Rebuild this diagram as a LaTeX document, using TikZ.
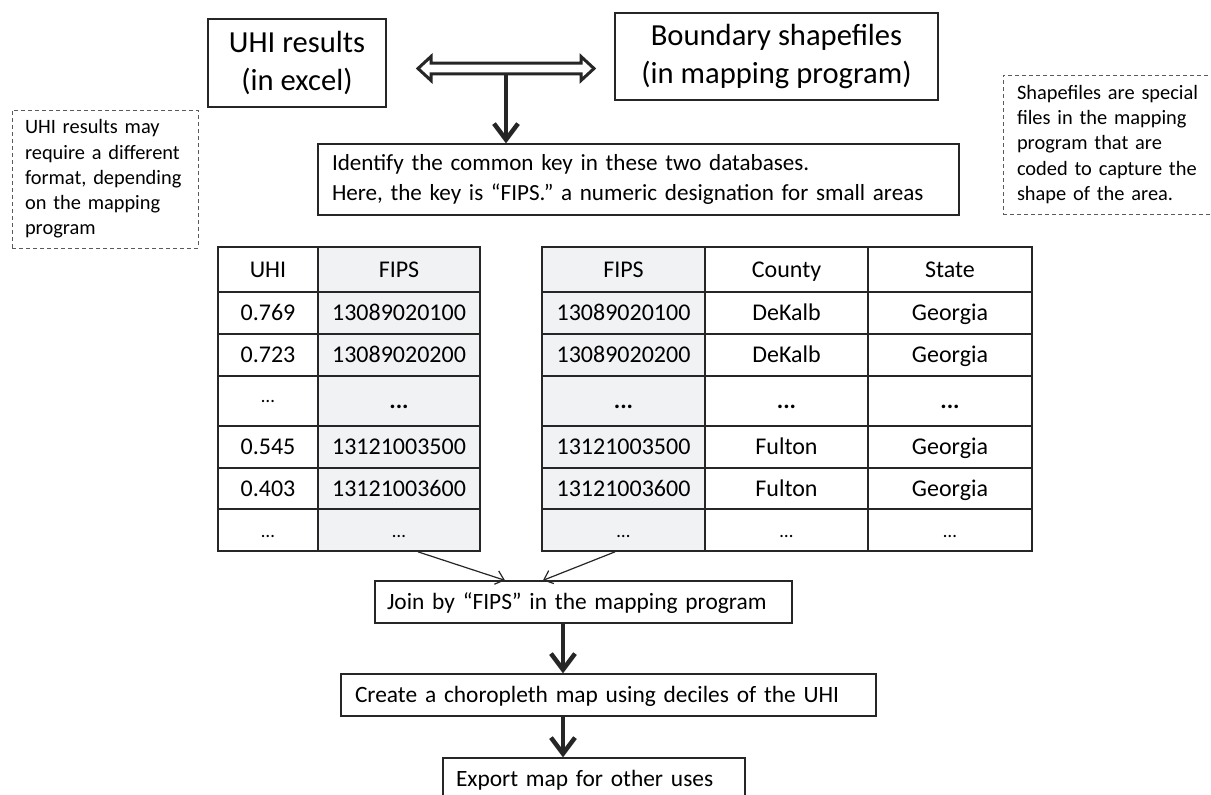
\documentclass[tikz,border=0pt]{standalone}
\usepackage{fontspec}
\setmainfont{Carlito}
\usetikzlibrary{arrows.meta,calc}
\definecolor{fipsgray}{RGB}{241,242,244}
\definecolor{linec}{RGB}{38,38,38}
\definecolor{notec}{RGB}{90,90,90}
\begin{document}
\begin{tikzpicture}[x=1pt,y=-1pt,
  bigbox/.style={draw=linec, line width=1.3pt, inner sep=0pt, align=center,
    font=\fontsize{30.6}{38.5}\selectfont},
  flowbox/.style={draw=linec, line width=1.3pt, inner ysep=0pt, align=left,
    minimum height=42pt, text height=15pt, text depth=0pt,
    font=\fontsize{23.4}{30}\selectfont},
  notebox/.style={draw=notec, dash pattern=on 4pt off 3pt, line width=1pt,
    inner sep=0pt, align=left, font=\fontsize{20.4}{25.3}\selectfont},
  cell/.style={draw=linec, line width=1.7pt, inner sep=0pt,
    text height=15.6pt, text depth=0pt, font=\fontsize{24}{29}\selectfont},
  fcell/.style={cell, fill=fipsgray},
  thickarrow/.style={draw=linec, line width=4.5pt, -{Straight Barb[length=16pt,width=24pt]}},
  thinarrow/.style={draw=linec, line width=1.2pt, -{Straight Barb[length=8pt,width=14pt]}}
]
\useasboundingbox (0,0) rectangle (1211,795);
\clip (0,0) rectangle (1211,795);
\fill[white] (0,0) rectangle (1211,795);

% top boxes
\node[bigbox, minimum width=178pt, minimum height=88pt] (uhi) at (297,63) {UHI results\\(in excel)};
\node[bigbox, minimum width=323pt, minimum height=87pt] (bnd) at (776.5,56.5) {Boundary shapefiles\\(in mapping program)};

% identify box
\node[draw=linec, line width=1.3pt, inner xsep=14pt, inner ysep=0pt, text width=613pt,
  minimum height=71pt, align=left, font=\fontsize{23.1}{30}\selectfont] (ident) at (638.5,179.5)
  {Identify the common key in these two databases.\\Here, the key is “FIPS.” a numeric designation for small areas};

% double block arrow
\draw[linec, line width=3pt, fill=white, miter limit=10]
  (418,68.5) -- (431,56.5) -- (431,63.2) -- (581,63.2) -- (581,56.5) -- (594,68.5)
  -- (581,80.5) -- (581,73.8) -- (431,73.8) -- (431,80.5) -- cycle;
\coordinate (stem) at (506,75.3);
\draw[thickarrow] (stem) -- (ident.north -| stem);

% notes
\node[notebox, minimum width=186pt, minimum height=138pt, text width=160pt] (noteL) at (105,179)
  {UHI results may\\require a different\\format, depending\\on the mapping\\program};
\node[notebox, minimum width=250pt, minimum height=139pt, text width=222pt] (noteR) at (1128,144.5)
  {Shapefiles are special\\files in the mapping\\program that are\\coded to capture the\\shape of the area.};

% left table
\node[cell,  minimum width=100pt, minimum height=45pt] (L11) at (268,269.5) {UHI};
\node[fcell, minimum width=162pt, minimum height=45pt] (L12) at (399,269.5) {FIPS};
\node[cell,  minimum width=100pt, minimum height=42pt] (L21) at (268,313) {0.769};
\node[fcell, minimum width=162pt, minimum height=42pt] (L22) at (399,313) {13089020100};
\node[cell,  minimum width=100pt, minimum height=42pt] (L31) at (268,355) {0.723};
\node[fcell, minimum width=162pt, minimum height=42pt] (L32) at (399,355) {13089020200};
\node[cell,  minimum width=100pt, minimum height=50pt] (L41) at (268,401) {\raisebox{6pt}{\fontsize{19}{22}\selectfont …}};
\node[fcell, minimum width=162pt, minimum height=50pt] (L42) at (399,401) {\textbf{...}};
\node[cell,  minimum width=100pt, minimum height=42pt] (L51) at (268,447) {0.545};
\node[fcell, minimum width=162pt, minimum height=42pt] (L52) at (399,447) {13121003500};
\node[cell,  minimum width=100pt, minimum height=41pt] (L61) at (268,488.5) {0.403};
\node[fcell, minimum width=162pt, minimum height=41pt] (L62) at (399,488.5) {13121003600};
\node[cell,  minimum width=100pt, minimum height=42pt] (L71) at (268,530) {\fontsize{19}{22}\selectfont …};
\node[fcell, minimum width=162pt, minimum height=42pt] (L72) at (399,530) {\fontsize{19}{22}\selectfont …};

% right table
\node[fcell, minimum width=163pt, minimum height=45pt] (R11) at (623.5,269.5) {FIPS};
\node[cell,  minimum width=163pt, minimum height=45pt] (R12) at (786.5,269.5) {County};
\node[cell,  minimum width=164pt, minimum height=45pt] (R13) at (950,269.5) {State};
\node[fcell, minimum width=163pt, minimum height=42pt] (R21) at (623.5,313) {13089020100};
\node[cell,  minimum width=163pt, minimum height=42pt] (R22) at (786.5,313) {DeKalb};
\node[cell,  minimum width=164pt, minimum height=42pt] (R23) at (950,313) {Georgia};
\node[fcell, minimum width=163pt, minimum height=42pt] (R31) at (623.5,355) {13089020200};
\node[cell,  minimum width=163pt, minimum height=42pt] (R32) at (786.5,355) {DeKalb};
\node[cell,  minimum width=164pt, minimum height=42pt] (R33) at (950,355) {Georgia};
\node[fcell, minimum width=163pt, minimum height=50pt] (R41) at (623.5,401) {\textbf{...}};
\node[cell,  minimum width=163pt, minimum height=50pt] (R42) at (786.5,401) {\textbf{...}};
\node[cell,  minimum width=164pt, minimum height=50pt] (R43) at (950,401) {\textbf{...}};
\node[fcell, minimum width=163pt, minimum height=42pt] (R51) at (623.5,447) {13121003500};
\node[cell,  minimum width=163pt, minimum height=42pt] (R52) at (786.5,447) {Fulton};
\node[cell,  minimum width=164pt, minimum height=42pt] (R53) at (950,447) {Georgia};
\node[fcell, minimum width=163pt, minimum height=41pt] (R61) at (623.5,488.5) {13121003600};
\node[cell,  minimum width=163pt, minimum height=41pt] (R62) at (786.5,488.5) {Fulton};
\node[cell,  minimum width=164pt, minimum height=41pt] (R63) at (950,488.5) {Georgia};
\node[fcell, minimum width=163pt, minimum height=42pt] (R71) at (623.5,530) {\fontsize{19}{22}\selectfont …};
\node[cell,  minimum width=163pt, minimum height=42pt] (R72) at (786.5,530) {\fontsize{19}{22}\selectfont …};
\node[cell,  minimum width=164pt, minimum height=42pt] (R73) at (950,530) {\fontsize{19}{22}\selectfont …};

% flow boxes
\node[flowbox, inner xsep=12pt, text width=393pt] (join) at (583.5,602) {Join by “FIPS” in the mapping program};
\node[flowbox, inner xsep=14pt, text width=507pt] (create) at (608.5,695) {Create a choropleth map using deciles of the UHI};
\node[flowbox, inner xsep=13pt, text width=276pt] (export) at (594,779) {Export map for other uses};

% connectors
\draw[thinarrow] ($(L72.south)+(19,0)$) -- ($(join.north)+(-78.5,0)$);
\draw[thinarrow] ($(R71.south)+(-8.5,0)$) -- ($(join.north)+(-40.5,0)$);
\coordinate (vx) at (563,0);
\draw[thickarrow] (join.south -| vx) -- (create.north -| vx);
\draw[thickarrow] (create.south -| vx) -- (export.north -| vx);
\end{tikzpicture}
\end{document}
